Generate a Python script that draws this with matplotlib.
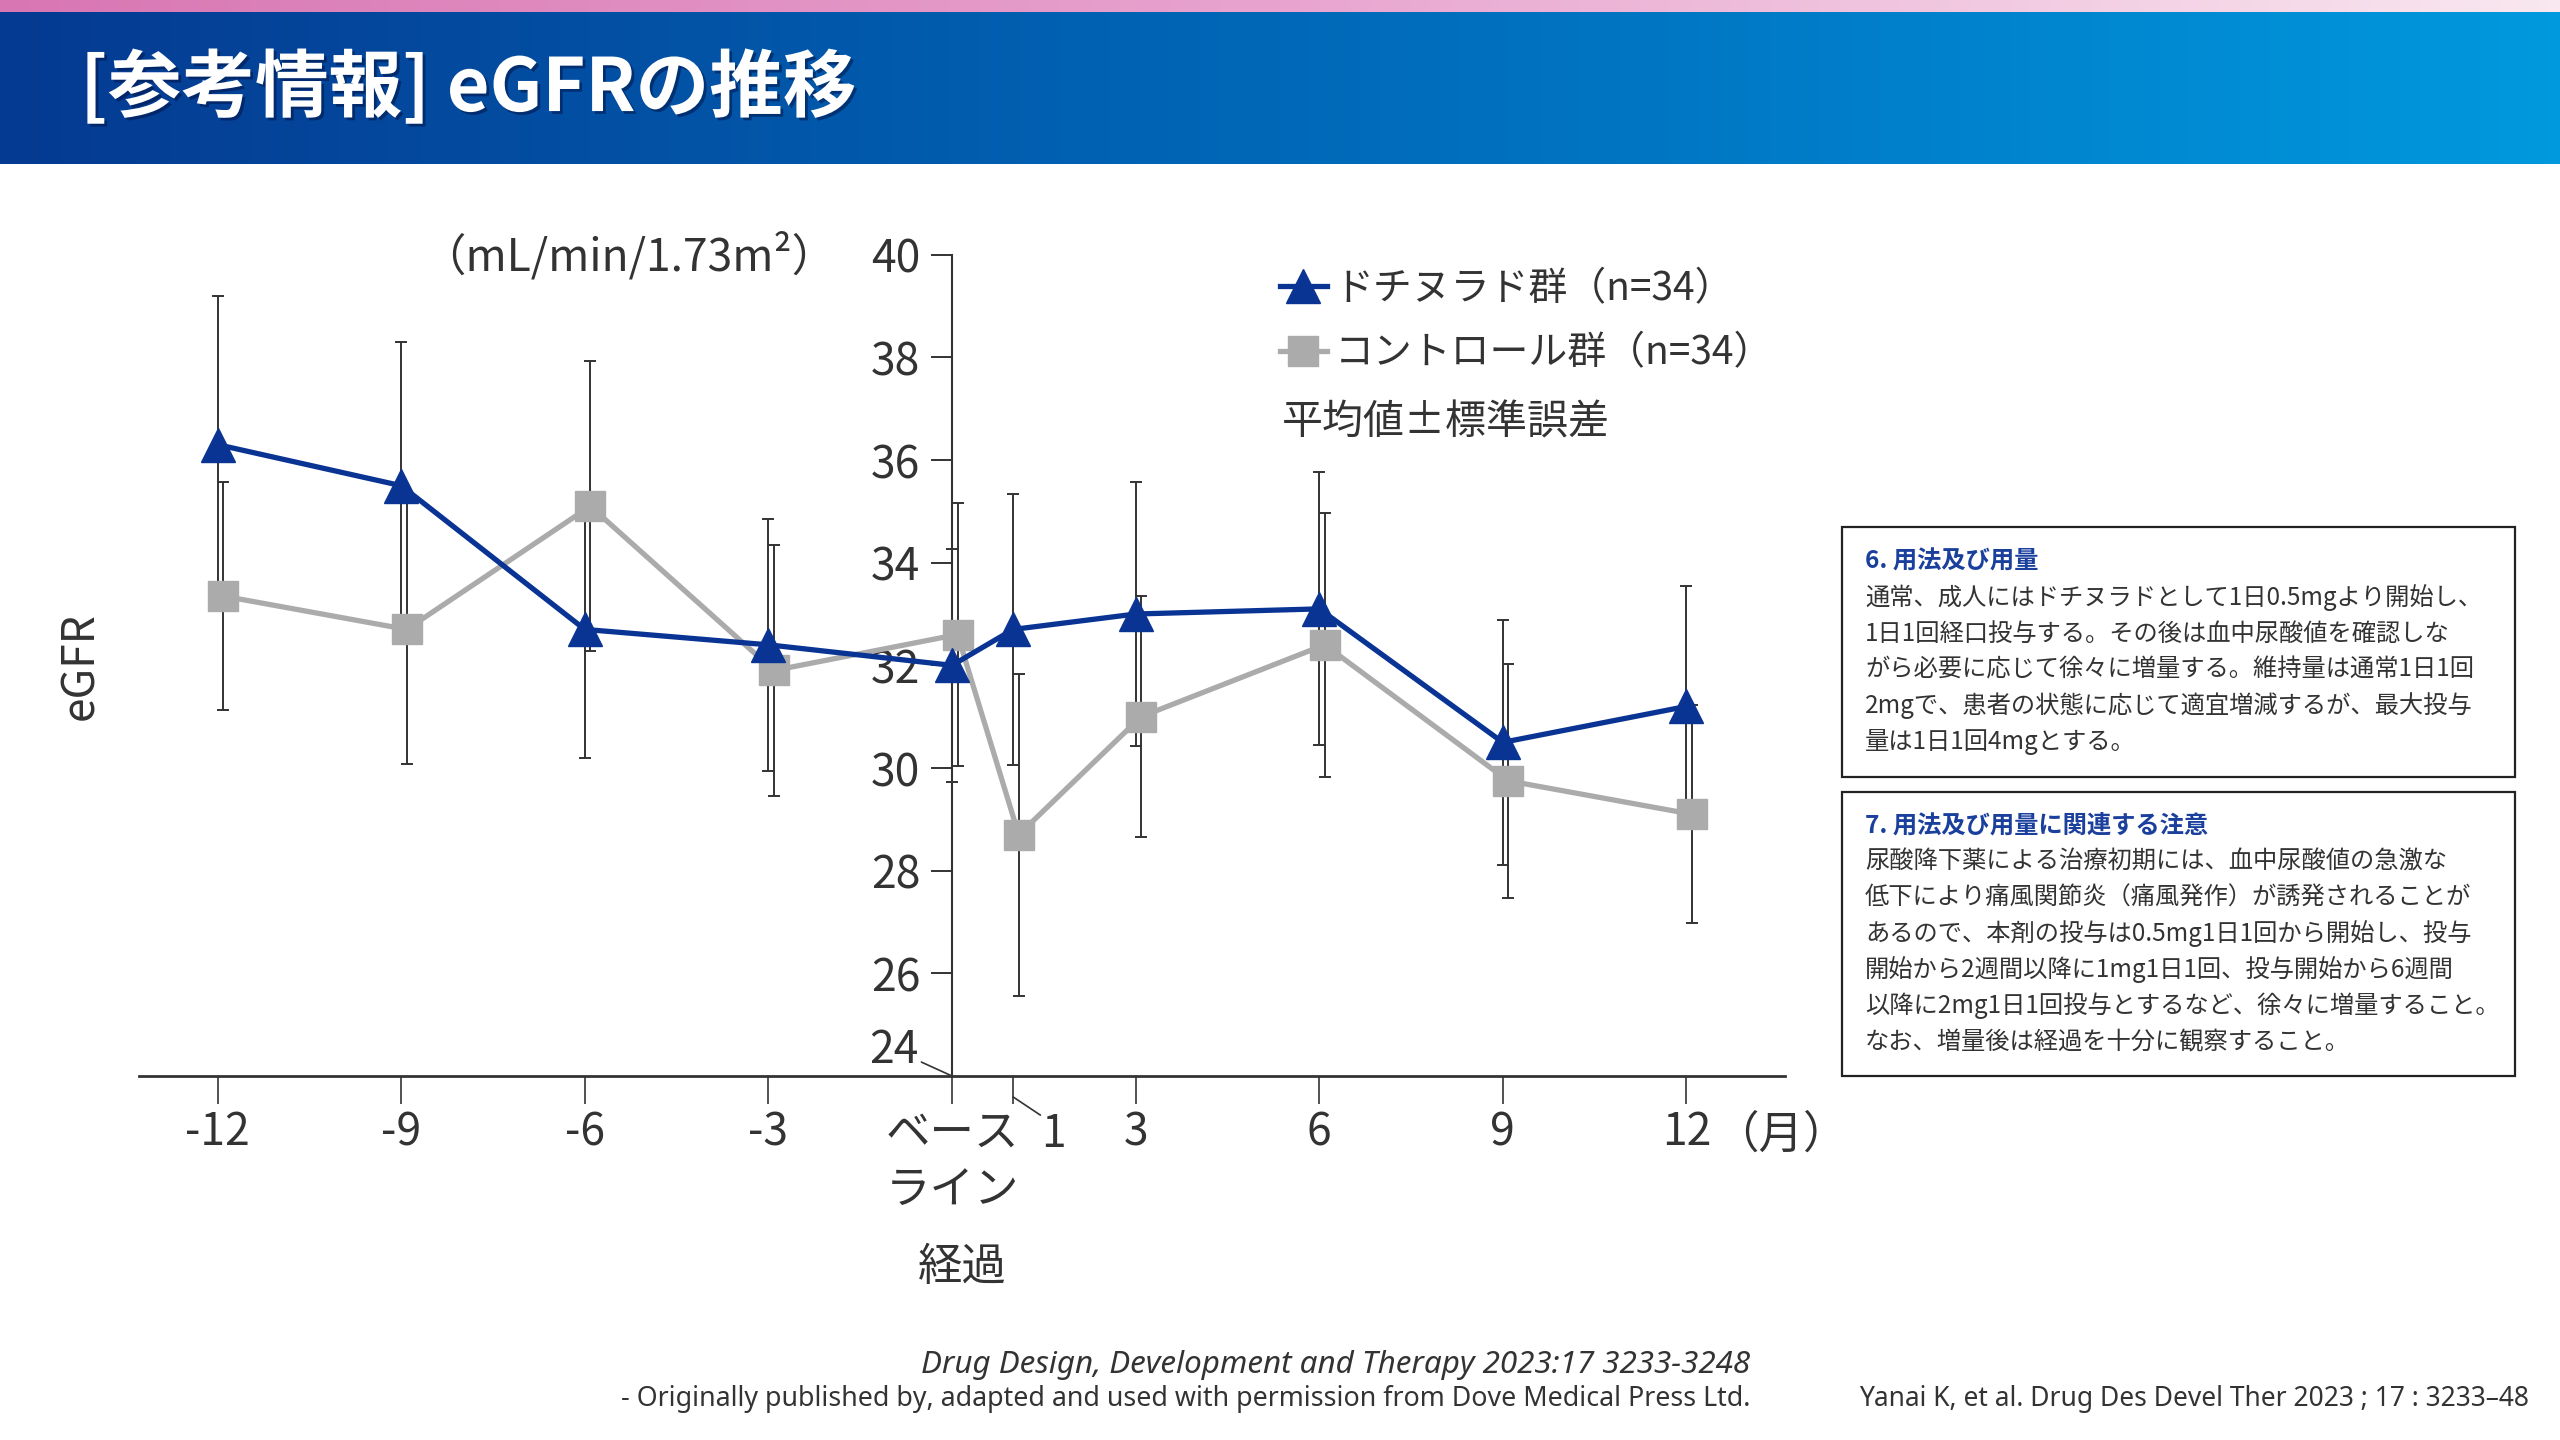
import numpy as np
import matplotlib.pyplot as plt
import matplotlib.patheffects as pe
from matplotlib.colors import LinearSegmentedColormap
from matplotlib.lines import Line2D
from matplotlib.patches import Rectangle

plt.rcParams['font.family'] = ['Noto Sans CJK JP', 'DejaVu Sans']

# データ
months = [-12, -9, -6, -3, 0, 1, 3, 6, 9, 12]
tick_labels = ['-12', '-9', '-6', '-3', 'ベース\nライン', '', '3', '6', '9', '12']
dot_mean = [36.3, 35.5, 32.7, 32.4, 32.0, 32.7, 33.0, 33.1, 30.5, 31.2]
dot_se = [2.9, 2.8, 2.5, 2.45, 2.27, 2.64, 2.58, 2.66, 2.39, 2.35]
ctl_mean = [33.35, 32.7, 35.1, 31.9, 32.6, 28.7, 31.0, 32.4, 29.75, 29.1]
ctl_se = [2.22, 2.62, 2.82, 2.45, 2.56, 3.14, 2.35, 2.57, 2.28, 2.12]
y_ticks = [26, 28, 30, 32, 34, 36, 38, 40]

box6_title = '6. 用法及び用量'
box6_lines = ['通常、成人にはドチヌラドとして1日0.5mgより開始し、',
              '1日1回経口投与する。その後は血中尿酸値を確認しな',
              'がら必要に応じて徐々に増量する。維持量は通常1日1回',
              '2mgで、患者の状態に応じて適宜増減するが、最大投与',
              '量は1日1回4mgとする。']
box7_title = '7. 用法及び用量に関連する注意'
box7_lines = ['尿酸降下薬による治療初期には、血中尿酸値の急激な',
              '低下により痛風関節炎（痛風発作）が誘発されることが',
              'あるので、本剤の投与は0.5mg1日1回から開始し、投与',
              '開始から2週間以降に1mg1日1回、投与開始から6週間',
              '以降に2mg1日1回投与とするなど、徐々に増量すること。',
              'なお、増量後は経過を十分に観察すること。']

BLUE = '#0a3494'
GRAY = '#ababab'
DARK = '#333333'
W, H = 2560, 1440

fig = plt.figure(figsize=(25.6, 14.4), dpi=100)

# ヘッダー（グラデーション）
grad = np.linspace(0, 1, 512).reshape(1, -1)
pink = LinearSegmentedColormap.from_list('pink', ['#d876b3', '#e8a4cf', '#f9e8f0'])
blue = LinearSegmentedColormap.from_list('blue', ['#053a91', '#0068b8', '#0099de'])
ax_pink = fig.add_axes([0, 1 - 12 / H, 1, 12 / H])
ax_pink.imshow(grad, aspect='auto', cmap=pink)
ax_pink.axis('off')
ax_head = fig.add_axes([0, 1 - 164 / H, 1, 152 / H])
ax_head.imshow(grad, aspect='auto', cmap=blue)
ax_head.axis('off')
fig.text(80 / W, 1 - 89 / H, '[参考情報] eGFRの推移', color='white', fontsize=53,
         fontweight='bold', ha='left', va='center',
         path_effects=[pe.withSimplePatchShadow(offset=(2, -2), shadow_rgbFace='#001040', alpha=0.5)])

# グラフ
x0 = 952
px_month = 61.2
ax = fig.add_axes([139 / W, 1 - 1076 / H, (1785 - 139) / W, (1076 - 254.7) / H])
ax.set_xlim((139 - x0) / px_month, (1785 - x0) / px_month)
ax.set_ylim(24, 40)

shift = 0.09
ctl_x = [m + shift for m in months]

ax.errorbar(months, dot_mean, yerr=dot_se, fmt='none', ecolor=DARK,
            elinewidth=1.4, capsize=4, capthick=1.4, zorder=2)
ax.errorbar(ctl_x, ctl_mean, yerr=ctl_se, fmt='none', ecolor=DARK,
            elinewidth=1.4, capsize=4, capthick=1.4, zorder=2)
ax.plot(ctl_x, ctl_mean, color=GRAY, lw=3.8, marker='s', ms=22, zorder=3)
ax.plot(months, dot_mean, color=BLUE, lw=3.8, marker='^', ms=25, zorder=4)

for side in ['top', 'right']:
    ax.spines[side].set_visible(False)
ax.spines['left'].set_position(('data', 0))
ax.spines['left'].set_color(DARK)
ax.spines['bottom'].set_color(DARK)
ax.spines['left'].set_linewidth(1.5)
ax.spines['bottom'].set_linewidth(2)

ax.set_yticks(y_ticks)
ax.set_xticks(months)
ax.set_xticklabels(tick_labels, linespacing=1.32)
ax.tick_params(axis='y', direction='out', length=15, width=1.4, colors=DARK,
               labelsize=32, pad=8)
ax.tick_params(axis='x', direction='out', length=20, width=1.2, colors=DARK,
               labelsize=32, pad=4)

# 24 と 1 のラベル（引き出し線付き）
ax.annotate('24', xy=(0, 24), xytext=(-24, 19), textcoords='offset points',
            ha='right', va='center', fontsize=32, color=DARK,
            arrowprops=dict(arrowstyle='-', color=DARK, lw=1.2, shrinkA=0, shrinkB=0))
ax.annotate('1', xy=(1, 0), xycoords=('data', 'axes fraction'),
            xytext=(29, -42), textcoords='offset points',
            ha='center', va='center', fontsize=32, color=DARK)
ax.plot([1, 1 + 27 / px_month], [-21 / 821.3, -39 / 821.3], color=DARK, lw=1.2,
        transform=ax.get_xaxis_transform(), clip_on=False)
ax.annotate('（月）', xy=(12, 0), xycoords=('data', 'axes fraction'),
            xytext=(20, -42), textcoords='offset points',
            ha='left', va='center', fontsize=32, color=DARK)

fig.text(962 / W, 1 - 1267 / H, '経過', fontsize=32, color=DARK, ha='center', va='center')
fig.text(80 / W, 1 - 666 / H, 'eGFR', fontsize=32, color=DARK, ha='center', va='center',
         rotation=90)
fig.text(629 / W, 1 - 256 / H, '（mL/min/1.73m²）', fontsize=32, color=DARK,
         ha='center', va='center')

# 凡例
handles = [Line2D([], [], color=BLUE, lw=3.8, marker='^', ms=25),
           Line2D([], [], color=GRAY, lw=3.8, marker='s', ms=22)]
fig.legend(handles, ['ドチヌラド群（n=34）', 'コントロール群（n=34）'],
           loc='upper left', bbox_to_anchor=(1280 / W, 1 - 269 / H), frameon=False,
           fontsize=28, handlelength=1.2, handletextpad=0.2, borderpad=0,
           borderaxespad=0, labelspacing=0.62, labelcolor=DARK)
fig.text(1282 / W, 1 - 423 / H, '平均値±標準誤差', fontsize=29.5, color=DARK,
         ha='left', va='center')

# 右側の説明ボックス
def draw_box(top, bottom, title, lines, title_y):
    fig.patches.append(Rectangle((1842 / W, 1 - bottom / H), (2515 - 1842) / W,
                                 (bottom - top) / H, transform=fig.transFigure,
                                 fill=False, edgecolor='#222222', lw=1.6))
    fig.text(1865 / W, 1 - title_y / H, title, fontsize=17.5, fontweight='bold',
             color='#1a3f9c', ha='left', va='center')
    for i, line in enumerate(lines):
        fig.text(1865 / W, 1 - (title_y + 36 * (i + 1)) / H, line, fontsize=17.5,
                 color=DARK, ha='left', va='center')


draw_box(527, 777, box6_title, box6_lines, 562)
draw_box(792, 1076, box7_title, box7_lines, 826)

# 出典
fig.text(1750 / W, 1 - 1365 / H, 'Drug Design, Development and Therapy 2023:17 3233-3248',
         fontsize=22.6, style='italic', color=DARK, ha='right', va='center',
         family=['Noto Sans', 'DejaVu Sans'])
fig.text(1750 / W, 1 - 1399 / H,
         '- Originally published by, adapted and used with permission from Dove Medical Press Ltd.',
         fontsize=19.3, color=DARK, ha='right', va='center', family=['Noto Sans', 'DejaVu Sans'])
fig.text(2529 / W, 1 - 1399 / H, 'Yanai K, et al. Drug Des Devel Ther 2023 ; 17 : 3233–48',
         fontsize=19, color=DARK, ha='right', va='center', family=['Noto Sans', 'DejaVu Sans'])

fig.savefig('out.png', dpi=100)
